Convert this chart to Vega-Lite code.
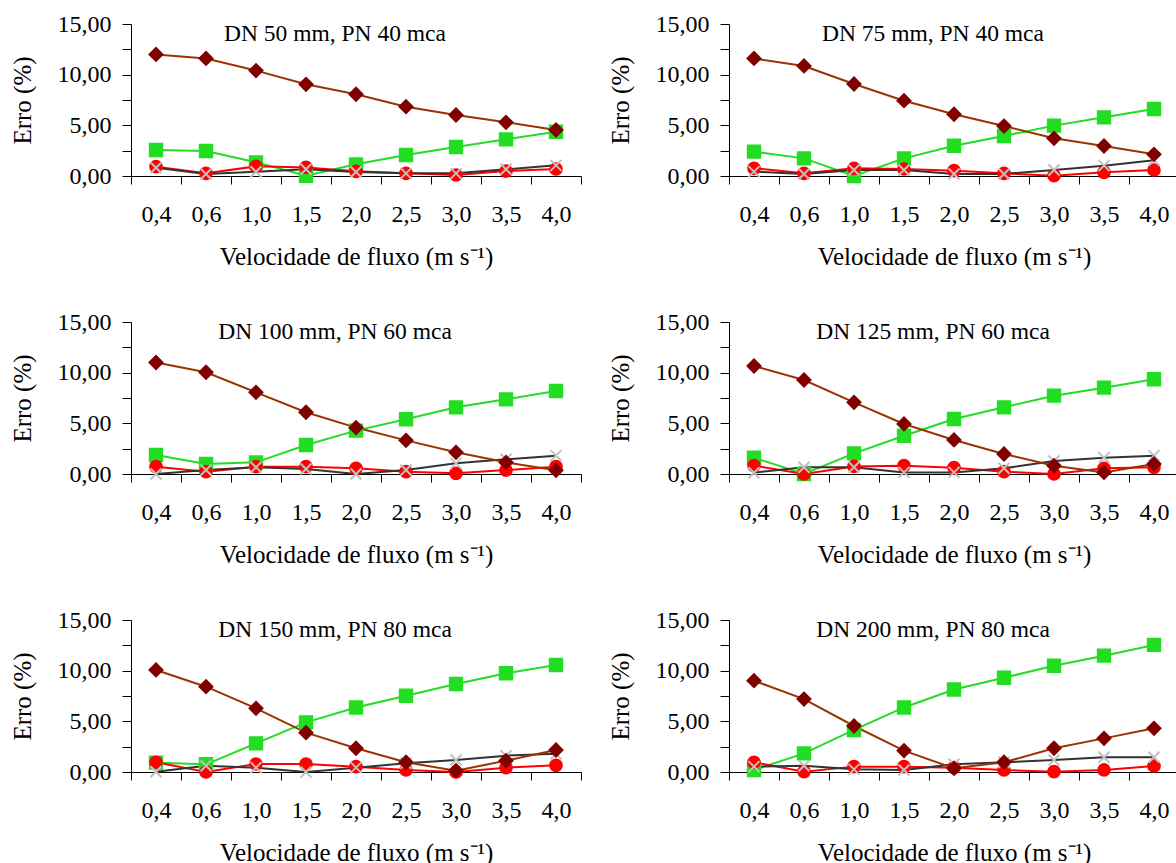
{
  "$schema": "https://vega.github.io/schema/vega-lite/v6.json",
  "background": "white",
  "padding": {"left": 10, "top": 12, "right": 0, "bottom": 0},
  "autosize": {"type": "pad"},
  "config": {
    "view": {"stroke": null},
    "axis": {"grid": false, "labelFont": "Liberation Serif", "labelFontSize": 24, "labelColor": "black", "titleFont": "Liberation Serif", "titleFontSize": 25, "titleFontWeight": "normal", "titleColor": "black", "domainColor": "black", "domainWidth": 1, "tickColor": "black", "tickWidth": 1, "labelFlush": false, "labelOverlap": false, "labelBound": false},
    "title": {"font": "Liberation Serif", "fontSize": 23.5, "fontWeight": "normal", "color": "black", "anchor": "middle", "frame": "group", "offset": 0, "dy": 37, "dx": -21}
  },
  "data": {"values": [
    {"p":1,"s":"B","i":0,"e":2.57},{"p":1,"s":"B","i":1,"e":2.47},{"p":1,"s":"B","i":2,"e":1.35},{"p":1,"s":"B","i":3,"e":0.03},{"p":1,"s":"B","i":4,"e":1.15},{"p":1,"s":"B","i":5,"e":2.07},{"p":1,"s":"B","i":6,"e":2.86},{"p":1,"s":"B","i":7,"e":3.62},{"p":1,"s":"B","i":8,"e":4.37},
    {"p":1,"s":"C","i":0,"e":0.92},{"p":1,"s":"C","i":1,"e":0.26},{"p":1,"s":"C","i":2,"e":0.95},{"p":1,"s":"C","i":3,"e":0.85},{"p":1,"s":"C","i":4,"e":0.46},{"p":1,"s":"C","i":5,"e":0.26},{"p":1,"s":"C","i":6,"e":0.1},{"p":1,"s":"C","i":7,"e":0.49},{"p":1,"s":"C","i":8,"e":0.69},
    {"p":1,"s":"D","i":0,"e":0.82},{"p":1,"s":"D","i":1,"e":0.2},{"p":1,"s":"D","i":2,"e":0.42},{"p":1,"s":"D","i":3,"e":0.66},{"p":1,"s":"D","i":4,"e":0.4},{"p":1,"s":"D","i":5,"e":0.26},{"p":1,"s":"D","i":6,"e":0.26},{"p":1,"s":"D","i":7,"e":0.66},{"p":1,"s":"D","i":8,"e":1.05},
    {"p":1,"s":"A","i":0,"e":12.0},{"p":1,"s":"A","i":1,"e":11.6},{"p":1,"s":"A","i":2,"e":10.4},{"p":1,"s":"A","i":3,"e":9.05},{"p":1,"s":"A","i":4,"e":8.07},{"p":1,"s":"A","i":5,"e":6.84},{"p":1,"s":"A","i":6,"e":6.02},{"p":1,"s":"A","i":7,"e":5.3},{"p":1,"s":"A","i":8,"e":4.54},

    {"p":2,"s":"B","i":0,"e":2.4},{"p":2,"s":"B","i":1,"e":1.74},{"p":2,"s":"B","i":2,"e":0.0},{"p":2,"s":"B","i":3,"e":1.74},{"p":2,"s":"B","i":4,"e":2.99},{"p":2,"s":"B","i":5,"e":3.95},{"p":2,"s":"B","i":6,"e":4.97},{"p":2,"s":"B","i":7,"e":5.79},{"p":2,"s":"B","i":8,"e":6.61},
    {"p":2,"s":"C","i":0,"e":0.76},{"p":2,"s":"C","i":1,"e":0.26},{"p":2,"s":"C","i":2,"e":0.76},{"p":2,"s":"C","i":3,"e":0.69},{"p":2,"s":"C","i":4,"e":0.53},{"p":2,"s":"C","i":5,"e":0.26},{"p":2,"s":"C","i":6,"e":0.03},{"p":2,"s":"C","i":7,"e":0.36},{"p":2,"s":"C","i":8,"e":0.59},
    {"p":2,"s":"D","i":0,"e":0.43},{"p":2,"s":"D","i":1,"e":0.2},{"p":2,"s":"D","i":2,"e":0.59},{"p":2,"s":"D","i":3,"e":0.6},{"p":2,"s":"D","i":4,"e":0.2},{"p":2,"s":"D","i":5,"e":0.2},{"p":2,"s":"D","i":6,"e":0.59},{"p":2,"s":"D","i":7,"e":1.02},{"p":2,"s":"D","i":8,"e":1.55},
    {"p":2,"s":"A","i":0,"e":11.6},{"p":2,"s":"A","i":1,"e":10.86},{"p":2,"s":"A","i":2,"e":9.08},{"p":2,"s":"A","i":3,"e":7.43},{"p":2,"s":"A","i":4,"e":6.09},{"p":2,"s":"A","i":5,"e":4.93},{"p":2,"s":"A","i":6,"e":3.72},{"p":2,"s":"A","i":7,"e":2.96},{"p":2,"s":"A","i":8,"e":2.14},

    {"p":3,"s":"B","i":0,"e":1.87},{"p":3,"s":"B","i":1,"e":0.99},{"p":3,"s":"B","i":2,"e":1.15},{"p":3,"s":"B","i":3,"e":2.86},{"p":3,"s":"B","i":4,"e":4.28},{"p":3,"s":"B","i":5,"e":5.4},{"p":3,"s":"B","i":6,"e":6.58},{"p":3,"s":"B","i":7,"e":7.37},{"p":3,"s":"B","i":8,"e":8.19},
    {"p":3,"s":"C","i":0,"e":0.72},{"p":3,"s":"C","i":1,"e":0.23},{"p":3,"s":"C","i":2,"e":0.72},{"p":3,"s":"C","i":3,"e":0.72},{"p":3,"s":"C","i":4,"e":0.56},{"p":3,"s":"C","i":5,"e":0.23},{"p":3,"s":"C","i":6,"e":0.07},{"p":3,"s":"C","i":7,"e":0.39},{"p":3,"s":"C","i":8,"e":0.72},
    {"p":3,"s":"D","i":0,"e":0.0},{"p":3,"s":"D","i":1,"e":0.39},{"p":3,"s":"D","i":2,"e":0.66},{"p":3,"s":"D","i":3,"e":0.49},{"p":3,"s":"D","i":4,"e":0.0},{"p":3,"s":"D","i":5,"e":0.39},{"p":3,"s":"D","i":6,"e":1.05},{"p":3,"s":"D","i":7,"e":1.45},{"p":3,"s":"D","i":8,"e":1.81},
    {"p":3,"s":"A","i":0,"e":11.0},{"p":3,"s":"A","i":1,"e":10.04},{"p":3,"s":"A","i":2,"e":8.06},{"p":3,"s":"A","i":3,"e":6.09},{"p":3,"s":"A","i":4,"e":4.58},{"p":3,"s":"A","i":5,"e":3.32},{"p":3,"s":"A","i":6,"e":2.14},{"p":3,"s":"A","i":7,"e":1.15},{"p":3,"s":"A","i":8,"e":0.36},

    {"p":4,"s":"B","i":0,"e":1.61},{"p":4,"s":"B","i":1,"e":0.0},{"p":4,"s":"B","i":2,"e":2.04},{"p":4,"s":"B","i":3,"e":3.78},{"p":4,"s":"B","i":4,"e":5.43},{"p":4,"s":"B","i":5,"e":6.58},{"p":4,"s":"B","i":6,"e":7.73},{"p":4,"s":"B","i":7,"e":8.52},{"p":4,"s":"B","i":8,"e":9.35},
    {"p":4,"s":"C","i":0,"e":0.82},{"p":4,"s":"C","i":1,"e":0.0},{"p":4,"s":"C","i":2,"e":0.75},{"p":4,"s":"C","i":3,"e":0.82},{"p":4,"s":"C","i":4,"e":0.62},{"p":4,"s":"C","i":5,"e":0.23},{"p":4,"s":"C","i":6,"e":0.0},{"p":4,"s":"C","i":7,"e":0.56},{"p":4,"s":"C","i":8,"e":0.66},
    {"p":4,"s":"D","i":0,"e":0.13},{"p":4,"s":"D","i":1,"e":0.66},{"p":4,"s":"D","i":2,"e":0.66},{"p":4,"s":"D","i":3,"e":0.16},{"p":4,"s":"D","i":4,"e":0.16},{"p":4,"s":"D","i":5,"e":0.56},{"p":4,"s":"D","i":6,"e":1.28},{"p":4,"s":"D","i":7,"e":1.61},{"p":4,"s":"D","i":8,"e":1.81},
    {"p":4,"s":"A","i":0,"e":10.66},{"p":4,"s":"A","i":1,"e":9.28},{"p":4,"s":"A","i":2,"e":7.07},{"p":4,"s":"A","i":3,"e":4.94},{"p":4,"s":"A","i":4,"e":3.36},{"p":4,"s":"A","i":5,"e":1.97},{"p":4,"s":"A","i":6,"e":0.82},{"p":4,"s":"A","i":7,"e":0.16},{"p":4,"s":"A","i":8,"e":0.99},

    {"p":5,"s":"B","i":0,"e":0.92},{"p":5,"s":"B","i":1,"e":0.76},{"p":5,"s":"B","i":2,"e":2.83},{"p":5,"s":"B","i":3,"e":4.9},{"p":5,"s":"B","i":4,"e":6.37},{"p":5,"s":"B","i":5,"e":7.53},{"p":5,"s":"B","i":6,"e":8.69},{"p":5,"s":"B","i":7,"e":9.74},{"p":5,"s":"B","i":8,"e":10.56},
    {"p":5,"s":"C","i":0,"e":0.96},{"p":5,"s":"C","i":1,"e":0.0},{"p":5,"s":"C","i":2,"e":0.79},{"p":5,"s":"C","i":3,"e":0.79},{"p":5,"s":"C","i":4,"e":0.53},{"p":5,"s":"C","i":5,"e":0.2},{"p":5,"s":"C","i":6,"e":0.0},{"p":5,"s":"C","i":7,"e":0.43},{"p":5,"s":"C","i":8,"e":0.66},
    {"p":5,"s":"D","i":0,"e":0.03},{"p":5,"s":"D","i":1,"e":0.62},{"p":5,"s":"D","i":2,"e":0.43},{"p":5,"s":"D","i":3,"e":0.0},{"p":5,"s":"D","i":4,"e":0.43},{"p":5,"s":"D","i":5,"e":0.86},{"p":5,"s":"D","i":6,"e":1.18},{"p":5,"s":"D","i":7,"e":1.61},{"p":5,"s":"D","i":8,"e":1.8},
    {"p":5,"s":"A","i":0,"e":10.07},{"p":5,"s":"A","i":1,"e":8.42},{"p":5,"s":"A","i":2,"e":6.28},{"p":5,"s":"A","i":3,"e":3.88},{"p":5,"s":"A","i":4,"e":2.34},{"p":5,"s":"A","i":5,"e":0.96},{"p":5,"s":"A","i":6,"e":0.13},{"p":5,"s":"A","i":7,"e":1.12},{"p":5,"s":"A","i":8,"e":2.17},

    {"p":6,"s":"B","i":0,"e":0.2},{"p":6,"s":"B","i":1,"e":1.84},{"p":6,"s":"B","i":2,"e":4.15},{"p":6,"s":"B","i":3,"e":6.37},{"p":6,"s":"B","i":4,"e":8.14},{"p":6,"s":"B","i":5,"e":9.3},{"p":6,"s":"B","i":6,"e":10.49},{"p":6,"s":"B","i":7,"e":11.48},{"p":6,"s":"B","i":8,"e":12.54},
    {"p":6,"s":"C","i":0,"e":0.96},{"p":6,"s":"C","i":1,"e":0.03},{"p":6,"s":"C","i":2,"e":0.53},{"p":6,"s":"C","i":3,"e":0.53},{"p":6,"s":"C","i":4,"e":0.43},{"p":6,"s":"C","i":5,"e":0.2},{"p":6,"s":"C","i":6,"e":0.03},{"p":6,"s":"C","i":7,"e":0.2},{"p":6,"s":"C","i":8,"e":0.6},
    {"p":6,"s":"D","i":0,"e":0.53},{"p":6,"s":"D","i":1,"e":0.62},{"p":6,"s":"D","i":2,"e":0.26},{"p":6,"s":"D","i":3,"e":0.2},{"p":6,"s":"D","i":4,"e":0.76},{"p":6,"s":"D","i":5,"e":0.96},{"p":6,"s":"D","i":6,"e":1.18},{"p":6,"s":"D","i":7,"e":1.45},{"p":6,"s":"D","i":8,"e":1.45},
    {"p":6,"s":"A","i":0,"e":9.01},{"p":6,"s":"A","i":1,"e":7.2},{"p":6,"s":"A","i":2,"e":4.54},{"p":6,"s":"A","i":3,"e":2.11},{"p":6,"s":"A","i":4,"e":0.36},{"p":6,"s":"A","i":5,"e":0.96},{"p":6,"s":"A","i":6,"e":2.34},{"p":6,"s":"A","i":7,"e":3.32},{"p":6,"s":"A","i":8,"e":4.31}
  ]},
  "columns": 2,
  "spacing": {"row": 146, "column": 148},
  "bounds": "flush",
  "concat": [
    {"width": 450, "height": 152, "title": "DN 50 mm, PN 40 mca", "transform": [{"filter": "datum.p == 1"}],
     "encoding": {
       "x": {"field": "i", "type": "quantitative", "scale": {"domain": [-0.5, 8.5], "nice": false, "zero": false}, "axis": {"title": "Velocidade de fluxo (m s⁻¹)", "values": [-0.5,0,0.5,1,1.5,2,2.5,3,3.5,4,4.5,5,5.5,6,6.5,7,7.5,8,8.5], "labelExpr": "datum.value % 1 === 0 ? ['0,4','0,6','1,0','1,5','2,0','2,5','3,0','3,5','4,0'][datum.value] : ''", "tickSize": 8, "tickOpacity": {"condition": {"test": "datum.value % 1 !== 0", "value": 1}, "value": 0}, "labelBaseline": "top", "labelPadding": 18, "titlePadding": 18}},
       "y": {"field": "e", "type": "quantitative", "scale": {"domain": [0, 15], "nice": false}, "axis": {"title": "Erro (%)", "values": [0,2.5,5,7.5,10,12.5,15], "labelExpr": "datum.value % 5 === 0 ? replace(format(datum.value, '.2f'), '.', ',') : ''", "tickSize": 9, "labelPadding": 11, "titlePadding": 22}}
     },
     "layer": [
       {"mark": {"type": "line", "strokeWidth": 2}, "encoding": {"color": {"field": "s", "type": "nominal", "scale": {"domain": ["A","B","C","D"], "range": ["#993300","#22dd22","#ff0000","#333333"]}, "legend": null}}},
       {"mark": {"type": "point", "filled": true, "strokeWidth": 2, "opacity": 1}, "encoding": {
         "fill": {"field": "s", "type": "nominal", "scale": {"domain": ["A","B","C","D"], "range": ["#800000","#22dd22","#ff0000","#c0c0c0"]}, "legend": null},
         "stroke": {"field": "s", "type": "nominal", "scale": {"domain": ["A","B","C","D"], "range": ["#800000","#22dd22","#ff0000","#c0c0c0"]}, "legend": null},
         "shape": {"field": "s", "type": "nominal", "scale": {"domain": ["A","B","C","D"], "range": ["diamond","square","circle","M-1,-1L1,1M1,-1L-1,1"]}, "legend": null},
         "size": {"field": "s", "type": "ordinal", "scale": {"domain": ["A","B","C","D"], "range": [169,121,121,196]}, "legend": null}
       }}
     ]},
    {"width": 450, "height": 152, "title": "DN 75 mm, PN 40 mca", "transform": [{"filter": "datum.p == 2"}],
     "encoding": {
       "x": {"field": "i", "type": "quantitative", "scale": {"domain": [-0.5, 8.5], "nice": false, "zero": false}, "axis": {"title": "Velocidade de fluxo (m s⁻¹)", "values": [-0.5,0,0.5,1,1.5,2,2.5,3,3.5,4,4.5,5,5.5,6,6.5,7,7.5,8,8.5], "labelExpr": "datum.value % 1 === 0 ? ['0,4','0,6','1,0','1,5','2,0','2,5','3,0','3,5','4,0'][datum.value] : ''", "tickSize": 8, "tickOpacity": {"condition": {"test": "datum.value % 1 !== 0", "value": 1}, "value": 0}, "labelBaseline": "top", "labelPadding": 18, "titlePadding": 18}},
       "y": {"field": "e", "type": "quantitative", "scale": {"domain": [0, 15], "nice": false}, "axis": {"title": "Erro (%)", "values": [0,2.5,5,7.5,10,12.5,15], "labelExpr": "datum.value % 5 === 0 ? replace(format(datum.value, '.2f'), '.', ',') : ''", "tickSize": 9, "labelPadding": 11, "titlePadding": 22}}
     },
     "layer": [
       {"mark": {"type": "line", "strokeWidth": 2}, "encoding": {"color": {"field": "s", "type": "nominal", "scale": {"domain": ["A","B","C","D"], "range": ["#993300","#22dd22","#ff0000","#333333"]}, "legend": null}}},
       {"mark": {"type": "point", "filled": true, "strokeWidth": 2, "opacity": 1}, "encoding": {
         "fill": {"field": "s", "type": "nominal", "scale": {"domain": ["A","B","C","D"], "range": ["#800000","#22dd22","#ff0000","#c0c0c0"]}, "legend": null},
         "stroke": {"field": "s", "type": "nominal", "scale": {"domain": ["A","B","C","D"], "range": ["#800000","#22dd22","#ff0000","#c0c0c0"]}, "legend": null},
         "shape": {"field": "s", "type": "nominal", "scale": {"domain": ["A","B","C","D"], "range": ["diamond","square","circle","M-1,-1L1,1M1,-1L-1,1"]}, "legend": null},
         "size": {"field": "s", "type": "ordinal", "scale": {"domain": ["A","B","C","D"], "range": [169,121,121,196]}, "legend": null}
       }}
     ]},
    {"width": 450, "height": 152, "title": "DN 100 mm, PN 60 mca", "transform": [{"filter": "datum.p == 3"}],
     "encoding": {
       "x": {"field": "i", "type": "quantitative", "scale": {"domain": [-0.5, 8.5], "nice": false, "zero": false}, "axis": {"title": "Velocidade de fluxo (m s⁻¹)", "values": [-0.5,0,0.5,1,1.5,2,2.5,3,3.5,4,4.5,5,5.5,6,6.5,7,7.5,8,8.5], "labelExpr": "datum.value % 1 === 0 ? ['0,4','0,6','1,0','1,5','2,0','2,5','3,0','3,5','4,0'][datum.value] : ''", "tickSize": 8, "tickOpacity": {"condition": {"test": "datum.value % 1 !== 0", "value": 1}, "value": 0}, "labelBaseline": "top", "labelPadding": 18, "titlePadding": 18}},
       "y": {"field": "e", "type": "quantitative", "scale": {"domain": [0, 15], "nice": false}, "axis": {"title": "Erro (%)", "values": [0,2.5,5,7.5,10,12.5,15], "labelExpr": "datum.value % 5 === 0 ? replace(format(datum.value, '.2f'), '.', ',') : ''", "tickSize": 9, "labelPadding": 11, "titlePadding": 22}}
     },
     "layer": [
       {"mark": {"type": "line", "strokeWidth": 2}, "encoding": {"color": {"field": "s", "type": "nominal", "scale": {"domain": ["A","B","C","D"], "range": ["#993300","#22dd22","#ff0000","#333333"]}, "legend": null}}},
       {"mark": {"type": "point", "filled": true, "strokeWidth": 2, "opacity": 1}, "encoding": {
         "fill": {"field": "s", "type": "nominal", "scale": {"domain": ["A","B","C","D"], "range": ["#800000","#22dd22","#ff0000","#c0c0c0"]}, "legend": null},
         "stroke": {"field": "s", "type": "nominal", "scale": {"domain": ["A","B","C","D"], "range": ["#800000","#22dd22","#ff0000","#c0c0c0"]}, "legend": null},
         "shape": {"field": "s", "type": "nominal", "scale": {"domain": ["A","B","C","D"], "range": ["diamond","square","circle","M-1,-1L1,1M1,-1L-1,1"]}, "legend": null},
         "size": {"field": "s", "type": "ordinal", "scale": {"domain": ["A","B","C","D"], "range": [169,121,121,196]}, "legend": null}
       }}
     ]},
    {"width": 450, "height": 152, "title": "DN 125 mm, PN 60 mca", "transform": [{"filter": "datum.p == 4"}],
     "encoding": {
       "x": {"field": "i", "type": "quantitative", "scale": {"domain": [-0.5, 8.5], "nice": false, "zero": false}, "axis": {"title": "Velocidade de fluxo (m s⁻¹)", "values": [-0.5,0,0.5,1,1.5,2,2.5,3,3.5,4,4.5,5,5.5,6,6.5,7,7.5,8,8.5], "labelExpr": "datum.value % 1 === 0 ? ['0,4','0,6','1,0','1,5','2,0','2,5','3,0','3,5','4,0'][datum.value] : ''", "tickSize": 8, "tickOpacity": {"condition": {"test": "datum.value % 1 !== 0", "value": 1}, "value": 0}, "labelBaseline": "top", "labelPadding": 18, "titlePadding": 18}},
       "y": {"field": "e", "type": "quantitative", "scale": {"domain": [0, 15], "nice": false}, "axis": {"title": "Erro (%)", "values": [0,2.5,5,7.5,10,12.5,15], "labelExpr": "datum.value % 5 === 0 ? replace(format(datum.value, '.2f'), '.', ',') : ''", "tickSize": 9, "labelPadding": 11, "titlePadding": 22}}
     },
     "layer": [
       {"mark": {"type": "line", "strokeWidth": 2}, "encoding": {"color": {"field": "s", "type": "nominal", "scale": {"domain": ["A","B","C","D"], "range": ["#993300","#22dd22","#ff0000","#333333"]}, "legend": null}}},
       {"mark": {"type": "point", "filled": true, "strokeWidth": 2, "opacity": 1}, "encoding": {
         "fill": {"field": "s", "type": "nominal", "scale": {"domain": ["A","B","C","D"], "range": ["#800000","#22dd22","#ff0000","#c0c0c0"]}, "legend": null},
         "stroke": {"field": "s", "type": "nominal", "scale": {"domain": ["A","B","C","D"], "range": ["#800000","#22dd22","#ff0000","#c0c0c0"]}, "legend": null},
         "shape": {"field": "s", "type": "nominal", "scale": {"domain": ["A","B","C","D"], "range": ["diamond","square","circle","M-1,-1L1,1M1,-1L-1,1"]}, "legend": null},
         "size": {"field": "s", "type": "ordinal", "scale": {"domain": ["A","B","C","D"], "range": [169,121,121,196]}, "legend": null}
       }}
     ]},
    {"width": 450, "height": 152, "title": "DN 150 mm, PN 80 mca", "transform": [{"filter": "datum.p == 5"}],
     "encoding": {
       "x": {"field": "i", "type": "quantitative", "scale": {"domain": [-0.5, 8.5], "nice": false, "zero": false}, "axis": {"title": "Velocidade de fluxo (m s⁻¹)", "values": [-0.5,0,0.5,1,1.5,2,2.5,3,3.5,4,4.5,5,5.5,6,6.5,7,7.5,8,8.5], "labelExpr": "datum.value % 1 === 0 ? ['0,4','0,6','1,0','1,5','2,0','2,5','3,0','3,5','4,0'][datum.value] : ''", "tickSize": 8, "tickOpacity": {"condition": {"test": "datum.value % 1 !== 0", "value": 1}, "value": 0}, "labelBaseline": "top", "labelPadding": 18, "titlePadding": 18}},
       "y": {"field": "e", "type": "quantitative", "scale": {"domain": [0, 15], "nice": false}, "axis": {"title": "Erro (%)", "values": [0,2.5,5,7.5,10,12.5,15], "labelExpr": "datum.value % 5 === 0 ? replace(format(datum.value, '.2f'), '.', ',') : ''", "tickSize": 9, "labelPadding": 11, "titlePadding": 22}}
     },
     "layer": [
       {"mark": {"type": "line", "strokeWidth": 2}, "encoding": {"color": {"field": "s", "type": "nominal", "scale": {"domain": ["A","B","C","D"], "range": ["#993300","#22dd22","#ff0000","#333333"]}, "legend": null}}},
       {"mark": {"type": "point", "filled": true, "strokeWidth": 2, "opacity": 1}, "encoding": {
         "fill": {"field": "s", "type": "nominal", "scale": {"domain": ["A","B","C","D"], "range": ["#800000","#22dd22","#ff0000","#c0c0c0"]}, "legend": null},
         "stroke": {"field": "s", "type": "nominal", "scale": {"domain": ["A","B","C","D"], "range": ["#800000","#22dd22","#ff0000","#c0c0c0"]}, "legend": null},
         "shape": {"field": "s", "type": "nominal", "scale": {"domain": ["A","B","C","D"], "range": ["diamond","square","circle","M-1,-1L1,1M1,-1L-1,1"]}, "legend": null},
         "size": {"field": "s", "type": "ordinal", "scale": {"domain": ["A","B","C","D"], "range": [169,121,121,196]}, "legend": null}
       }}
     ]},
    {"width": 450, "height": 152, "title": "DN 200 mm, PN 80 mca", "transform": [{"filter": "datum.p == 6"}],
     "encoding": {
       "x": {"field": "i", "type": "quantitative", "scale": {"domain": [-0.5, 8.5], "nice": false, "zero": false}, "axis": {"title": "Velocidade de fluxo (m s⁻¹)", "values": [-0.5,0,0.5,1,1.5,2,2.5,3,3.5,4,4.5,5,5.5,6,6.5,7,7.5,8,8.5], "labelExpr": "datum.value % 1 === 0 ? ['0,4','0,6','1,0','1,5','2,0','2,5','3,0','3,5','4,0'][datum.value] : ''", "tickSize": 8, "tickOpacity": {"condition": {"test": "datum.value % 1 !== 0", "value": 1}, "value": 0}, "labelBaseline": "top", "labelPadding": 18, "titlePadding": 18}},
       "y": {"field": "e", "type": "quantitative", "scale": {"domain": [0, 15], "nice": false}, "axis": {"title": "Erro (%)", "values": [0,2.5,5,7.5,10,12.5,15], "labelExpr": "datum.value % 5 === 0 ? replace(format(datum.value, '.2f'), '.', ',') : ''", "tickSize": 9, "labelPadding": 11, "titlePadding": 22}}
     },
     "layer": [
       {"mark": {"type": "line", "strokeWidth": 2}, "encoding": {"color": {"field": "s", "type": "nominal", "scale": {"domain": ["A","B","C","D"], "range": ["#993300","#22dd22","#ff0000","#333333"]}, "legend": null}}},
       {"mark": {"type": "point", "filled": true, "strokeWidth": 2, "opacity": 1}, "encoding": {
         "fill": {"field": "s", "type": "nominal", "scale": {"domain": ["A","B","C","D"], "range": ["#800000","#22dd22","#ff0000","#c0c0c0"]}, "legend": null},
         "stroke": {"field": "s", "type": "nominal", "scale": {"domain": ["A","B","C","D"], "range": ["#800000","#22dd22","#ff0000","#c0c0c0"]}, "legend": null},
         "shape": {"field": "s", "type": "nominal", "scale": {"domain": ["A","B","C","D"], "range": ["diamond","square","circle","M-1,-1L1,1M1,-1L-1,1"]}, "legend": null},
         "size": {"field": "s", "type": "ordinal", "scale": {"domain": ["A","B","C","D"], "range": [169,121,121,196]}, "legend": null}
       }}
     ]}
  ]
}
